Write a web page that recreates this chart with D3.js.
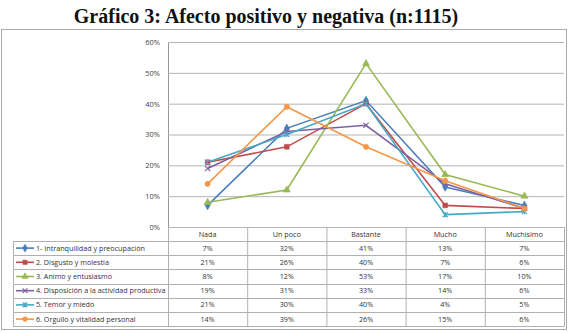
<!DOCTYPE html>
<html>
<head>
<meta charset="utf-8">
<script src="https://cdn.jsdelivr.net/npm/d3@7"></script>
<style>
  body { margin: 0; background: #fff; }
  svg { display: block; }
  .tick-label { font-family: "Open Sans", "DejaVu Sans", sans-serif; font-size: 7.5px; fill: #444; }
  .cell { font-family: "Open Sans", "DejaVu Sans", sans-serif; font-size: 7.2px; fill: #333; }
</style>
</head>
<body>
<svg id="chart"></svg>
<script>
// chart data
const categories = ["Nada", "Un poco", "Bastante", "Mucho", "Muchisimo"];
const seriesNames = [
  "1- Intranquilidad y preocupación",
  "2. Disgusto y molestia",
  "3. Animo y entusiasmo",
  "4. Disposición a la actividad productiva",
  "5. Temor y miedo",
  "6. Orgullo y vitalidad personal"
];
const intranquilidad = [7, 32, 41, 13, 7];
const disgusto = [21, 26, 40, 7, 6];
const animo = [8, 12, 53, 17, 10];
const disposicion = [19, 31, 33, 14, 6];
const temor = [21, 30, 40, 4, 5];
const orgullo = [14, 39, 26, 15, 6];
const yTicks = [0, 10, 20, 30, 40, 50, 60];

const seriesValues = [intranquilidad, disgusto, animo, disposicion, temor, orgullo];
const colors = ["#4A7EBB", "#BE4B48", "#98B954", "#7D60A0", "#46AAC5", "#F79646"];
const markers = ["diamond", "square", "triangle", "x", "star", "circle"];

const width = 569, height = 332;
const plot = {left: 168, right: 564, top: 42, bottom: 227};
const table = {left: 13, headerTop: 227, rowTop: 241, rowH: 14.2};

const svg = d3.select("#chart").attr("width", width).attr("height", height);

// title
svg.append("text")
  .attr("x", 266).attr("y", 23)
  .attr("text-anchor", "middle")
  .style("font-family", "'Liberation Serif', 'DejaVu Serif', serif")
  .style("font-weight", "bold")
  .style("font-size", "20px")
  .style("fill", "#111")
  .text("Gráfico 3: Afecto positivo y negativa (n:1115)");

// outer frame
svg.append("rect")
  .attr("x", 1.5).attr("y", 29.5)
  .attr("width", 565).attr("height", 300)
  .attr("fill", "none").attr("stroke", "#aaa");

const xScale = d3.scaleBand().domain(categories).range([plot.left, plot.right]);
const yScale = d3.scaleLinear().domain([0, 60]).range([plot.bottom, plot.top]);
const cx = c => xScale(c) + xScale.bandwidth() / 2;

// gridlines and y axis
const yAxis = d3.axisLeft(yScale).tickValues(yTicks).tickFormat(d => d + "%")
  .tickSize(-(plot.right - plot.left)).tickSizeOuter(0);
const yAxisG = svg.append("g")
  .attr("transform", `translate(${plot.left},0)`)
  .call(yAxis);
yAxisG.select(".domain").attr("stroke", "#999");
yAxisG.selectAll(".tick line").attr("stroke", "#b5b5b5");
yAxisG.selectAll(".tick text")
  .attr("class", "tick-label")
  .attr("x", -8).attr("dy", "0.32em");

// lines
const line = d3.line().x((d, i) => cx(categories[i])).y(d => yScale(d));
const sym = {
  diamond: d3.symbolDiamond, square: d3.symbolSquare, triangle: d3.symbolTriangle,
  circle: d3.symbolCircle
};

function drawMarker(g, type, color, size) {
  if (sym[type]) {
    g.append("path")
      .attr("d", d3.symbol().type(sym[type]).size(size)())
      .attr("fill", color).attr("stroke", color).attr("stroke-width", 0.6);
  } else {
    const r = Math.sqrt(size) / 2 + 0.3;
    g.append("path")
      .attr("d", `M${-r},${-r}L${r},${r}M${-r},${r}L${r},${-r}` + (type === "star" ? `M0,${-r}L0,${r}` : ""))
      .attr("stroke", color).attr("stroke-width", 1.1).attr("fill", "none");
  }
}

seriesValues.forEach((vals, s) => {
  svg.append("path")
    .datum(vals)
    .attr("d", line)
    .attr("fill", "none")
    .attr("stroke", colors[s])
    .attr("stroke-width", 1.6);
});
seriesValues.forEach((vals, s) => {
  vals.forEach((v, i) => {
    const g = svg.append("g").attr("transform", `translate(${cx(categories[i])},${yScale(v)})`);
    drawMarker(g, markers[s], colors[s], 22);
  });
});

// data table
const tableBottom = table.rowTop + table.rowH * seriesNames.length;
const tg = svg.append("g").attr("stroke", "#b0b0b0").attr("stroke-width", 1);
// header vertical lines
xScale.domain().forEach(c => {
  tg.append("line")
    .attr("x1", xScale(c) + 0.5).attr("x2", xScale(c) + 0.5)
    .attr("y1", table.headerTop).attr("y2", tableBottom);
});
tg.append("line")
  .attr("x1", plot.right + 0.5).attr("x2", plot.right + 0.5)
  .attr("y1", table.headerTop).attr("y2", tableBottom);
tg.append("line")
  .attr("x1", table.left + 0.5).attr("x2", table.left + 0.5)
  .attr("y1", table.rowTop).attr("y2", tableBottom);
// horizontal lines
d3.range(seriesNames.length + 1).forEach(r => {
  const y = Math.round(table.rowTop + r * table.rowH) + 0.5;
  tg.append("line")
    .attr("x1", table.left).attr("x2", plot.right + 0.5)
    .attr("y1", y).attr("y2", y);
});

// header
categories.forEach(c => {
  svg.append("text").attr("class", "cell")
    .attr("x", cx(c)).attr("y", table.headerTop + 7.5)
    .attr("dy", "0.35em").attr("text-anchor", "middle")
    .text(c);
});

// rows
seriesNames.forEach((name, s) => {
  const yMid = table.rowTop + s * table.rowH + table.rowH / 2;
  const lg = svg.append("g");
  lg.append("line")
    .attr("x1", 16).attr("x2", 34).attr("y1", yMid).attr("y2", yMid)
    .attr("stroke", colors[s]).attr("stroke-width", 1.6);
  drawMarker(lg.append("g").attr("transform", `translate(25,${yMid})`), markers[s], colors[s], 18);
  lg.append("text").attr("class", "cell")
    .attr("x", 36).attr("y", yMid).attr("dy", "0.35em")
    .text(name);
  seriesValues[s].forEach((v, i) => {
    svg.append("text").attr("class", "cell")
      .attr("x", cx(categories[i])).attr("y", yMid).attr("dy", "0.35em")
      .attr("text-anchor", "middle")
      .text(v + "%");
  });
});
</script>
</body>
</html>
